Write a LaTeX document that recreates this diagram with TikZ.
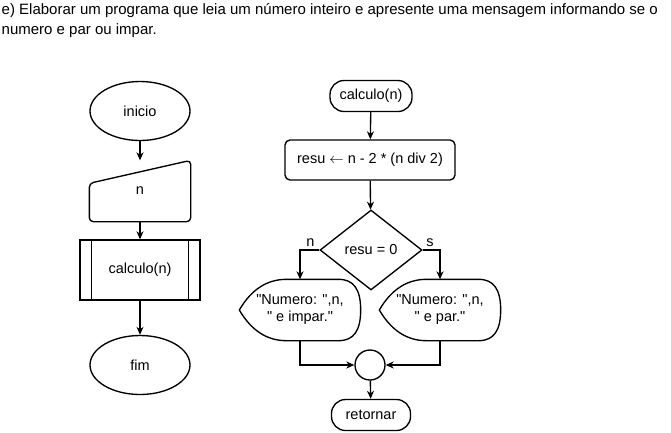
\documentclass[tikz,border=0pt]{standalone}
\usepackage{fontspec}
\newfontfamily\diofont{Liberation Sans}
\usepackage{tikz}
\usetikzlibrary{arrows.meta, shapes.geometric, calc}

\begin{document}
\begin{tikzpicture}[x=1pt, y=-1pt, line width=1.35pt,
        font=\diofont\fontsize{14.5}{17}\selectfont,
        arr/.style={-{Stealth[length=8pt, width=7pt, inset=2.5pt]}},
        term/.style={draw, ellipse, minimum width=100pt, minimum height=59pt},
        pill/.style={draw, rounded corners=14pt, minimum height=31pt, inner sep=0pt},
        proc/.style={draw, rounded corners=5pt, minimum width=170pt, minimum height=40pt},
        blank/.style={minimum width=#1, inner sep=0pt, minimum height=60pt, align=center},
        lbl/.style={anchor=south, inner sep=2.5pt}]
        \useasboundingbox (0,0) rectangle (671,432);

        \node[anchor=north west, align=left, inner sep=0pt,
              font=\diofont\fontsize{15}{20}\selectfont] (title) at (1,3)
            {e) Elaborar um programa que leia um número inteiro e apresente uma mensagem informando se o\\
             numero e par ou impar.};

        % programa principal
        \node[term] (inicio) at (140,111) {inicio};
        \node[blank=100pt] (leitura) at (140,191) {n};
        \draw[rounded corners=4pt] (leitura.south) -- (leitura.south west)
            -- ([yshift=-23pt]leitura.north west) -- (leitura.north east)
            -- (leitura.south east) -- cycle;
        \node[draw, minimum width=120pt, minimum height=60pt] (chamada) at (140,270) {calculo(n)};
        \draw ([xshift=12pt]chamada.north west) -- ([xshift=12pt]chamada.south west);
        \draw ([xshift=-12pt]chamada.north east) -- ([xshift=-12pt]chamada.south east);
        \node[term] (fim) at (140,365) {fim};

        \draw[arr] (inicio) -- (leitura.north);
        \draw[arr] (leitura) -- (chamada);
        \draw[arr] (chamada) -- (fim);

        % sub-rotina
        \node[pill, minimum width=82pt] (calculo) at (371,96) {calculo(n)};
        \node[proc] (resu) at (370,160) {resu $\leftarrow$ n - 2 * (n div 2)};
        \node[draw, diamond, minimum width=102pt, minimum height=80pt, inner sep=0pt] (teste) at (371,250) {resu = 0};
        \node[blank=120pt] (impar) at (300,310) {"Numero: ",n,\\" e impar."};
        \node[blank=120pt] (par) at (440,310) {"Numero: ",n,\\" e par."};
        \foreach \d in {impar, par}
            \draw (\d.west)
                .. controls ([xshift=12pt, yshift=-10pt]\d.north west) and ([xshift=28pt]\d.north west) .. ([xshift=47pt]\d.north west)
                -- ([xshift=-22pt]\d.north east)
                .. controls ([xshift=-7pt]\d.north east) and ([yshift=-10pt]\d.north east) .. (\d.east)
                .. controls ([yshift=10pt]\d.south east) and ([xshift=-7pt]\d.south east) .. ([xshift=-22pt]\d.south east)
                -- ([xshift=47pt]\d.south west)
                .. controls ([xshift=28pt]\d.south west) and ([xshift=12pt, yshift=10pt]\d.south west) .. (\d.west) -- cycle;
        \node[draw, circle, minimum size=30pt, inner sep=0pt] (junta) at (370,365) {};
        \node[pill, minimum width=79pt] (retornar) at (371,415) {retornar};

        \draw[arr] (calculo) -- (resu);
        \draw[arr] (resu) -- (teste);
        \draw[arr] (teste.west) -| node[lbl, pos=0.23] {n} (impar.north);
        \draw[arr] (teste.east) -| node[lbl, pos=0.21] {s} (par.north);
        \draw[arr] (impar.south) |- (junta.west);
        \draw[arr] (par.south) |- (junta.east);
        \draw[arr] (junta) -- (retornar);

    \end{tikzpicture}
\end{document}
